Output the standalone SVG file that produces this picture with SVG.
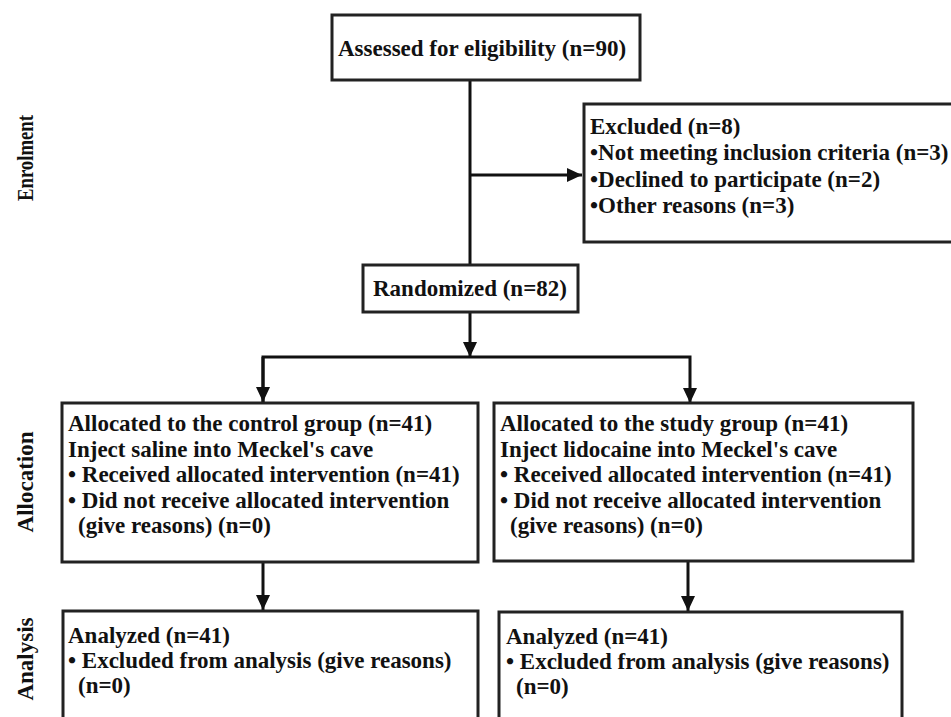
<svg xmlns="http://www.w3.org/2000/svg" width="951" height="717" viewBox="0 0 951 717">
<defs>
<style>
.box{fill:#fff;stroke:#222;stroke-width:3}
.t{font-family:"Liberation Serif","Times New Roman",serif;font-weight:bold;font-size:23px;fill:#111}
.lab{font-family:"Liberation Serif","Times New Roman",serif;font-weight:bold;font-size:23px;fill:#111;text-anchor:middle}
.ln{fill:none;stroke:#111;stroke-width:3}
</style>
<marker id="ah" markerUnits="userSpaceOnUse" markerWidth="15" markerHeight="14" refX="15" refY="7" orient="auto">
<path d="M0,0 L15,7 L0,14 z" fill="#111"/>
</marker>
</defs>
<rect width="951" height="717" fill="#fff"/>
<g id="labels">
<text class="lab" transform="translate(33,158) rotate(-90)" textLength="86" lengthAdjust="spacingAndGlyphs">Enrolment</text>
<text class="lab" transform="translate(33,482) rotate(-90)">Allocation</text>
<text class="lab" transform="translate(33,659) rotate(-90)">Analysis</text>
</g>
<g id="connectors">
<line class="ln" x1="470" y1="80" x2="470" y2="265"/>
<line class="ln" x1="470" y1="175" x2="582" y2="175" marker-end="url(#ah)"/>
<line class="ln" x1="470" y1="312" x2="470" y2="357" marker-end="url(#ah)"/>
<polyline class="ln" points="263,403 263,357 690,357 690,403" marker-end="url(#ah)"/>
<line class="ln" x1="263" y1="357" x2="263" y2="402" marker-end="url(#ah)"/>
<line class="ln" x1="263" y1="562" x2="263" y2="610" marker-end="url(#ah)"/>
<line class="ln" x1="688" y1="561" x2="688" y2="611" marker-end="url(#ah)"/>
</g>
<g id="assessed">
<rect class="box" x="332" y="15" width="308" height="65"/>
<text class="t" x="338" y="56">Assessed for eligibility (n=90)</text>
</g>
<g id="excluded">
<rect class="box" x="584" y="104" width="380" height="138"/>
<text class="t" x="590" y="134">Excluded (n=8)</text>
<text class="t" x="590" y="160">•Not meeting inclusion criteria (n=3)</text>
<text class="t" x="590" y="187">•Declined to participate (n=2)</text>
<text class="t" x="590" y="213">•Other reasons (n=3)</text>
</g>
<g id="randomized">
<rect class="box" x="363" y="265" width="215" height="47"/>
<text class="t" x="373" y="296">Randomized (n=82)</text>
</g>
<g id="control">
<rect class="box" x="62" y="403" width="416" height="159"/>
<text class="t" x="68" y="431">Allocated to the control group (n=41)</text>
<text class="t" x="68" y="457">Inject saline into Meckel's cave</text>
<text class="t" x="68" y="482">• Received allocated intervention (n=41)</text>
<text class="t" x="68" y="508">• Did not receive allocated intervention</text>
<text class="t" x="78" y="533">(give reasons) (n=0)</text>
</g>
<g id="study">
<rect class="box" x="494" y="403" width="419" height="158"/>
<text class="t" x="500" y="431">Allocated to the study group (n=41)</text>
<text class="t" x="500" y="457">Inject lidocaine into Meckel's cave</text>
<text class="t" x="500" y="482">• Received allocated intervention (n=41)</text>
<text class="t" x="500" y="508">• Did not receive allocated intervention</text>
<text class="t" x="510" y="533">(give reasons) (n=0)</text>
</g>
<g id="analysis-control">
<rect class="box" x="63" y="611" width="415" height="130"/>
<text class="t" x="68" y="643">Analyzed (n=41)</text>
<text class="t" x="68" y="668">• Excluded from analysis (give reasons)</text>
<text class="t" x="78" y="693">(n=0)</text>
</g>
<g id="analysis-study">
<rect class="box" x="499" y="612" width="403" height="130"/>
<text class="t" x="506" y="644">Analyzed (n=41)</text>
<text class="t" x="506" y="669">• Excluded from analysis (give reasons)</text>
<text class="t" x="516" y="694">(n=0)</text>
</g>
</svg>
